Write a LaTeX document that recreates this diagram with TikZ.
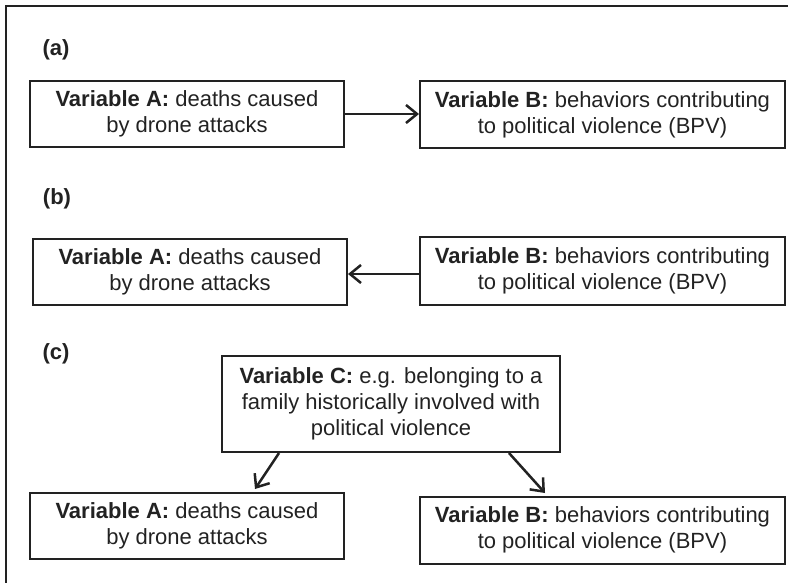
\documentclass[tikz,border=0pt]{standalone}
\usepackage{fontspec}
\setmainfont{Liberation Sans}
\usetikzlibrary{arrows.meta,calc}
\definecolor{ink}{HTML}{222222}
\tikzset{
  box/.style={draw=ink, line width=2pt, text=ink, align=center, inner sep=0pt,
    font=\fontsize{22}{26}\selectfont},
  wbox/.style={box, minimum width=314pt, minimum height=66pt},
  bbox/.style={box, minimum width=365pt, minimum height=67pt},
  tag/.style={text=ink, font=\fontsize{22}{26}\selectfont\bfseries, inner sep=0pt},
  arr/.style={draw=ink, line width=2.5pt, -{Straight Barb[length=11pt,width=18pt,line width=2.5pt]}},
}
\begin{document}
\begin{tikzpicture}[x=1pt,y=-1pt]
\useasboundingbox (0,0) rectangle (788,583);
\draw[ink, line width=2.5pt] (6,583) -- (6,6) -- (788,6);

% (a)
\node[tag] (la) at (56,50) {(a)};
\node[wbox] (Aa) at (187,114) {\textbf{Variable A:} deaths caused\\by drone attacks};
\node[bbox] (Ba) at (602.5,115) {\textbf{Variable B:} behaviors contributing\\to political violence (BPV)};
\draw[arr] (Aa.east) -- (Aa.east -| Ba.west);

% (b)
\node[tag] (lb) at (57,199) {(b)};
\node[wbox] (Ab) at (190,272) {\textbf{Variable A:} deaths caused\\by drone attacks};
\node[bbox] (Bb) at (602.5,271) {\textbf{Variable B:} behaviors contributing\\to political violence (BPV)};
\draw[arr] ($(Bb.west)+(0,3)$) -- ($(Ab.east)+(0,2)$);

% (c)
\node[tag] (lc) at (56,354) {(c)};
\node[box, minimum width=338pt, minimum height=96pt] (C) at (391,404)
  {\textbf{Variable C:} e.g. belonging to a\\family historically involved with\\political violence};
\node[wbox] (Ac) at (187,526) {\textbf{Variable A:} deaths caused\\by drone attacks};
\node[bbox] (Bc) at (602.5,530) {\textbf{Variable B:} behaviors contributing\\to political violence (BPV)};
\coordinate (ta) at (255,489);
\coordinate (tb) at (545,493);
\draw[arr] ($(C.south west)+(58,0)$) -- (ta);
\draw[arr] ($(C.south west)+(288,0)$) -- (tb);
\end{tikzpicture}
\end{document}
